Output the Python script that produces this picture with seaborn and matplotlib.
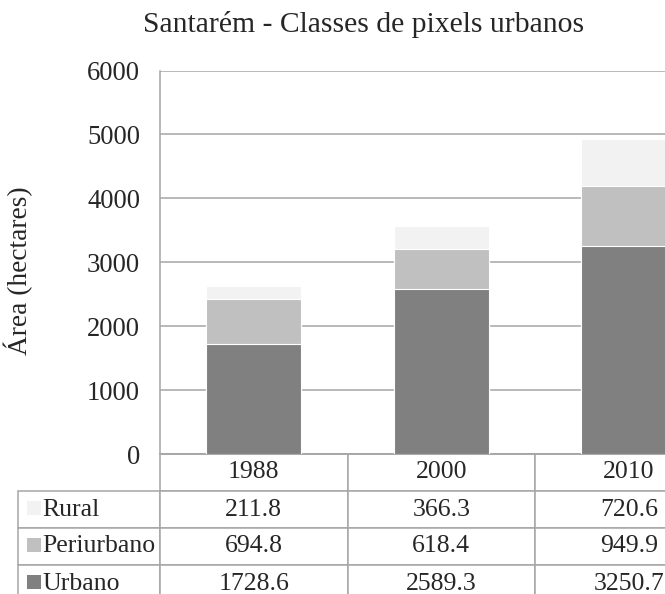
import matplotlib
matplotlib.use("Agg")
import matplotlib.pyplot as plt
from matplotlib.patches import Rectangle
import seaborn as sns
import pandas as pd

# data
years = ["1988", "2000", "2010"]
urbano = [1728.6, 2589.3, 3250.7]
periurbano = [694.8, 618.4, 949.9]
rural = [211.8, 366.3, 720.6]
classes = ["Rural", "Periurbano", "Urbano"]
colors = {"Urbano": "#808080", "Periurbano": "#c0c0c0", "Rural": "#f2f2f2"}

sns.set_theme(style="white")
plt.rcParams["font.family"] = ["Liberation Serif", "DejaVu Serif"]
grid_col = "#a6a6a6"

df = pd.DataFrame({"year": years, "Urbano": urbano,
                   "Periurbano": periurbano, "Rural": rural})
# stacked heights: draw the tallest stack first, then cover it
df["top_rural"] = df["Urbano"] + df["Periurbano"] + df["Rural"]
df["top_peri"] = df["Urbano"] + df["Periurbano"]

W, H = 665, 594
fig = plt.figure(figsize=(W / 100, H / 100), dpi=100)
# the chart is cropped on the right in the original, so the axes runs past the edge
ax = fig.add_axes([160 / W, 1 - 454 / H, 562.5 / W, 383.5 / H])

bw = 95.3 / 187.5
for col, cls in [("top_rural", "Rural"), ("top_peri", "Periurbano"), ("Urbano", "Urbano")]:
    sns.barplot(data=df, x="year", y=col, color=colors[cls], width=bw,
                saturation=1, edgecolor="white", linewidth=0.8, ax=ax, zorder=3)

ax.set_ylim(0, 6000)
ax.set_xlim(-0.5, 2.5)
ax.set_yticks(range(0, 6001, 1000))
ax.yaxis.grid(True, color=grid_col, linewidth=1.1, zorder=0)
ax.set_axisbelow(True)
ax.tick_params(axis="y", length=0, pad=14.4, labelsize=19.2)
ax.set_xticks([])
ax.set_xlabel("")
ax.set_ylabel("Área (hectares)", fontsize=19.7)
ax.yaxis.set_label_coords(-0.226, 0.477)
for s in ["top", "right"]:
    ax.spines[s].set_visible(False)
for s in ["left", "bottom"]:
    ax.spines[s].set_color(grid_col)
    ax.spines[s].set_linewidth(1.1)

fig.text(364 / W, 1 - 32 / H, "Santarém - Classes de pixels urbanos",
         ha="center", va="baseline", fontsize=21.3)

# data table under the axes
series = {"Rural": rural, "Periurbano": periurbano, "Urbano": urbano}
cell_text = [[cls] + [f"{v:.1f}" for v in series[cls]] for cls in classes]
tab_h = 148 / 383.5
tbl = ax.table(cellText=cell_text, colLabels=[""] + years,
               colWidths=[142, 187.5, 187.5, 187.5], cellLoc="center",
               bbox=[(18 - 160) / 562.5, -tab_h, (722.5 - 18) / 562.5, tab_h])
tbl.auto_set_font_size(False)
tbl.set_fontsize(18.5)
for (r, c), cell in tbl.get_celld().items():
    cell.set_edgecolor(grid_col)
    cell.set_linewidth(1.1)
    if r == 0 and c == 0:
        cell.set_visible(False)
    elif c == 0:
        cell.get_text().set_horizontalalignment("left")
        cell.PAD = 24 / 142

# little legend squares in the row label cells
for i, cls in enumerate(classes):
    yc = 490.7 + 37 * i + 17.5
    fig.add_artist(Rectangle((27 / W, 1 - (yc + 7) / H), 14 / W, 14 / H,
                             transform=fig.transFigure, facecolor=colors[cls],
                             edgecolor="none"))

fig.savefig("out.png", dpi=100)
